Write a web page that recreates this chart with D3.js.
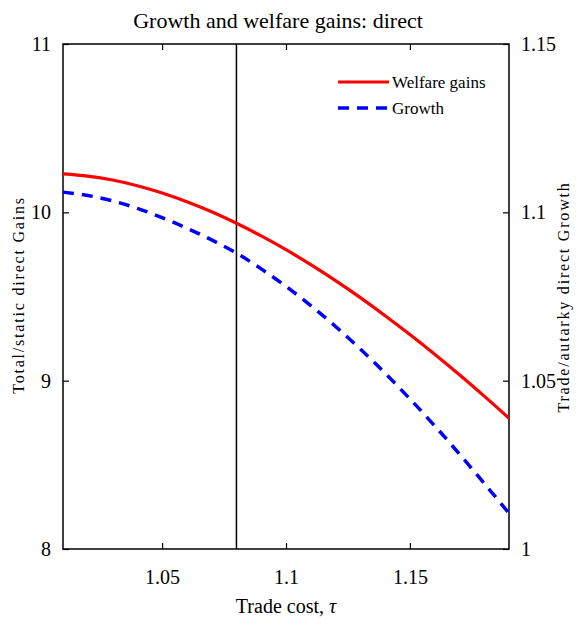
<!DOCTYPE html>
<html><head><meta charset="utf-8">
<script src="https://cdn.jsdelivr.net/npm/d3@7"></script>
<style>body{margin:0;background:#fff;} text{font-family:"Liberation Serif","DejaVu Serif",serif;fill:#000;}</style>
</head><body>
<svg id="c" width="579" height="627"></svg>
<script>
const tau = [1.01,1.02,1.03,1.04,1.05,1.06,1.07,1.08,1.09,1.10,1.11,1.12,1.13,1.14,1.15,1.16,1.17,1.18,1.19];
const welfare = [10.228,10.215,10.192,10.158,10.115,10.063,10.003,9.935,9.860,9.778,9.689,9.594,9.493,9.386,9.274,9.157,9.035,8.908,8.777];
const growth = [1.1060,1.1050,1.1034,1.1012,1.0984,1.0953,1.0918,1.0879,1.0832,1.0780,1.0723,1.0661,1.0594,1.0522,1.0446,1.0366,1.0282,1.0195,1.0106];
const xTicks = [1.05,1.1,1.15];
const yLeftTicks = [8,9,10,11];
const yRightTicks = [1,1.05,1.1,1.15];
const vline = 1.08;
const title = "Growth and welfare gains: direct";
const seriesNames = ["Welfare gains","Growth"];

const svg = d3.select("#c");
const L=63,R=509,T=44,B=549;
const x = d3.scaleLinear().domain([1.01,1.19]).range([L,R]);
const yl = d3.scaleLinear().domain([8,11]).range([B,T]);
const yr = d3.scaleLinear().domain([1,1.15]).range([B,T]);
const fmt = d => String(d);

svg.append("rect").attr("x",L).attr("y",T).attr("width",R-L).attr("height",B-T)
  .attr("fill","none").attr("stroke","#000").attr("stroke-width",1.5);

svg.append("g").attr("transform",`translate(0,${B})`)
  .call(d3.axisBottom(x).tickValues(xTicks).tickFormat(fmt).tickSizeInner(-6).tickSizeOuter(0).tickPadding(21));
svg.append("g").attr("transform",`translate(0,${T})`)
  .call(d3.axisTop(x).tickValues(xTicks).tickFormat("").tickSizeInner(-6).tickSizeOuter(0));
svg.append("g").attr("transform",`translate(${L},0)`)
  .call(d3.axisLeft(yl).tickValues(yLeftTicks).tickFormat(fmt).tickSizeInner(-6).tickSizeOuter(0).tickPadding(12));
svg.append("g").attr("transform",`translate(${R},0)`)
  .call(d3.axisRight(yr).tickValues(yRightTicks).tickFormat(fmt).tickSizeInner(-6).tickSizeOuter(0).tickPadding(12));
svg.selectAll(".domain").remove();
svg.selectAll(".tick line").attr("stroke","#000").attr("stroke-width",1.2);
svg.selectAll(".tick text").style("font-size","20px").style("font-family","'Liberation Serif',serif");

svg.append("line").attr("x1",x(vline)).attr("x2",x(vline)).attr("y1",T).attr("y2",B)
  .attr("stroke","#000").attr("stroke-width",1.5);

svg.append("path").datum(d3.zip(tau,welfare))
  .attr("d",d3.line().x(d=>x(d[0])).y(d=>yl(d[1])).curve(d3.curveMonotoneX))
  .attr("fill","none").attr("stroke","#ff0000").attr("stroke-width",3.2);
svg.append("path").datum(d3.zip(tau,growth))
  .attr("d",d3.line().x(d=>x(d[0])).y(d=>yr(d[1])).curve(d3.curveMonotoneX))
  .attr("fill","none").attr("stroke","#0000ff").attr("stroke-width",3.5).attr("stroke-dasharray","11,8");

const lg = svg.append("g");
lg.append("line").attr("x1",338).attr("x2",389).attr("y1",82).attr("y2",82).attr("stroke","#ff0000").attr("stroke-width",3.2);
lg.append("line").attr("x1",338).attr("x2",389).attr("y1",108).attr("y2",108).attr("stroke","#0000ff").attr("stroke-width",3.5).attr("stroke-dasharray","11,8");
lg.append("text").attr("x",392).attr("y",88).style("font-size","17px").text(seriesNames[0]);
lg.append("text").attr("x",392).attr("y",114).style("font-size","17px").text(seriesNames[1]);

svg.append("text").attr("x",(L+R)/2-8).attr("y",28).attr("text-anchor","middle").style("font-size","22px").text(title);
svg.append("text").attr("x",(L+R)/2).attr("y",613).attr("text-anchor","middle").style("font-size","20px")
  .html('Trade cost, <tspan font-style="italic">τ</tspan>');
svg.append("text").attr("transform","translate(24,295) rotate(-90)").attr("text-anchor","middle")
  .style("font-size","16px").style("letter-spacing","1.8px").text("Total/static direct Gains");
svg.append("text").attr("transform","translate(569,297) rotate(-90)").attr("text-anchor","middle")
  .style("font-size","16px").style("letter-spacing","1.8px").text("Trade/autarky direct Growth");
</script>
</body></html>
